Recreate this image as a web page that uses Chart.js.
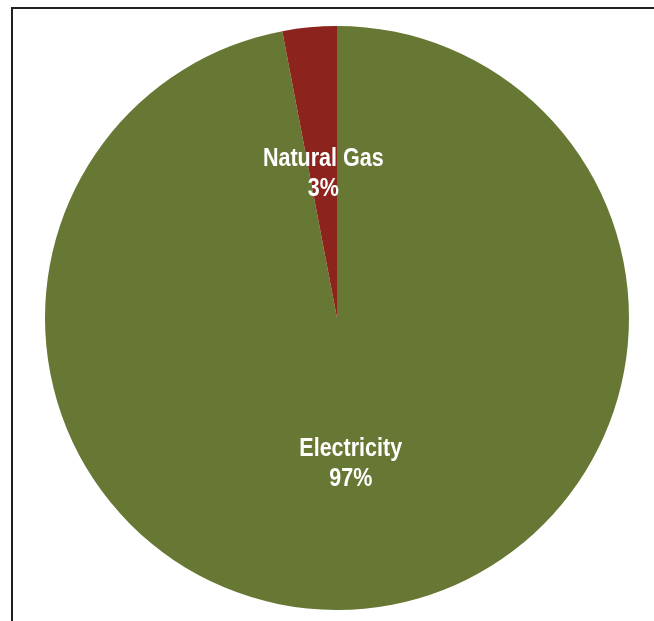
<!DOCTYPE html>
<html>
<head>
<meta charset="utf-8">
<title>Energy Use by Source</title>
<script src="https://cdn.jsdelivr.net/npm/chart.js@4.4.1/dist/chart.umd.min.js"></script>
<style>
    html, body { margin: 0; padding: 0; background: #ffffff; overflow: hidden; }
    body { width: 654px; height: 621px; position: relative; }
    .frame {
        position: absolute;
        left: 11px; top: 7px;
        width: 700px; height: 700px;
        border: 2px solid #231f20;
    }
    .chart-box {
        position: absolute;
        left: 45px; top: 26px;
        width: 584px; height: 584px;
    }
</style>
</head>
<body>
<div class="frame"></div>
<div class="chart-box"><canvas id="energyPie"></canvas></div>

<script>
// === DATOS ===
const sources = ["Electricity", "Natural Gas"];
const shares = [97, 3];
const sliceColors = ["#677834", "#8c231c"];

// Etiquetas dentro de cada porción: nombre + porcentaje
// (fuente estrecha simulada con escala horizontal)
const sliceLabels = {
    id: "sliceLabels",
    afterDatasetsDraw(chart) {
        const ctx = chart.ctx;
        const meta = chart.getDatasetMeta(0);
        const narrow = 0.86;
        ctx.save();
        ctx.fillStyle = "#ffffff";
        ctx.textAlign = "center";
        ctx.textBaseline = "middle";
        ctx.font = "bold 25px 'Liberation Sans', Arial, sans-serif";
        meta.data.forEach((arc, i) => {
            const pos = arc.tooltipPosition();
            ctx.save();
            ctx.translate(pos.x, pos.y + 1);
            ctx.scale(narrow, 1);
            ctx.fillText(sources[i], 0, -15);
            ctx.fillText(shares[i] + "%", 0, 15);
            ctx.restore();
        });
        ctx.restore();
    }
};

new Chart(document.getElementById("energyPie"), {
    type: "pie",
    data: {
        labels: sources,
        datasets: [{
            data: shares,
            backgroundColor: sliceColors,
            borderWidth: 0
        }]
    },
    options: {
        responsive: true,
        maintainAspectRatio: false,
        animation: false,
        layout: { padding: 0 },
        plugins: {
            legend: { display: false },
            tooltip: { enabled: false }
        }
    },
    plugins: [sliceLabels]
});
</script>
</body>
</html>
